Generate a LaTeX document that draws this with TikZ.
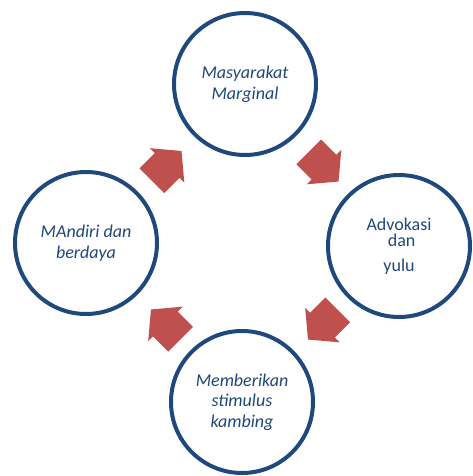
\documentclass[tikz,border=0pt]{standalone}
\usepackage{fontspec}
\setmainfont{Carlito}
\usetikzlibrary{shapes.arrows}

\definecolor{cycleblue}{RGB}{31,73,125}
\definecolor{cyclered}{RGB}{192,80,77}

\tikzset{every picture/.style={line width=0.75pt}}
\tikzset{
  stage/.style={circle, draw=cycleblue, line width=3pt, fill=white, minimum size=106.5pt, inner sep=0pt,
    text=cycleblue, align=center, font=\fontsize{13.5}{15.5}\selectfont},
  turn/.style={single arrow, fill=cyclered, draw=none, inner xsep=0pt, inner ysep=12.75pt,
    minimum height=31.5pt, single arrow head extend=5.25pt, single arrow tip angle=100}
}

\begin{document}
\begin{tikzpicture}[x=0.75pt,y=0.75pt,yscale=-1,xscale=1]
	\useasboundingbox (0,0) rectangle (473,476); %set diagram to the size of the reference

	%Shape: Circle [top]
	\node [stage] (marginal) at (245,84) {\itshape Masyarakat\\\itshape Marginal};
	%Shape: Circle [right]
	\node [stage] (advokasi) at (399,246) {Advokasi\\[-3pt]\hspace{4pt}dan\\[3pt]yulu};
	%Shape: Circle [bottom]
	\node [stage] (stimulus) at (242,402) {\itshape Memberikan\\\itshape stimulus\\\itshape kambing};
	%Shape: Circle [left]
	\node [stage] (mandiri) at (86,243) {\itshape MAndiri dan\\\itshape berdaya};

	%Shape: Right Arrow [top left]
	\node [turn, rotate=45] (arrowA) at (161.5,171) {};
	%Shape: Right Arrow [top right]
	\node [turn, rotate=-45] (arrowB) at (318.5,161.5) {};
	%Shape: Right Arrow [bottom right]
	\node [turn, rotate=-135] (arrowC) at (328,319.5) {};
	%Shape: Right Arrow [bottom left]
	\node [turn, rotate=135] (arrowD) at (171,329.5) {};

\end{tikzpicture}
\end{document}
